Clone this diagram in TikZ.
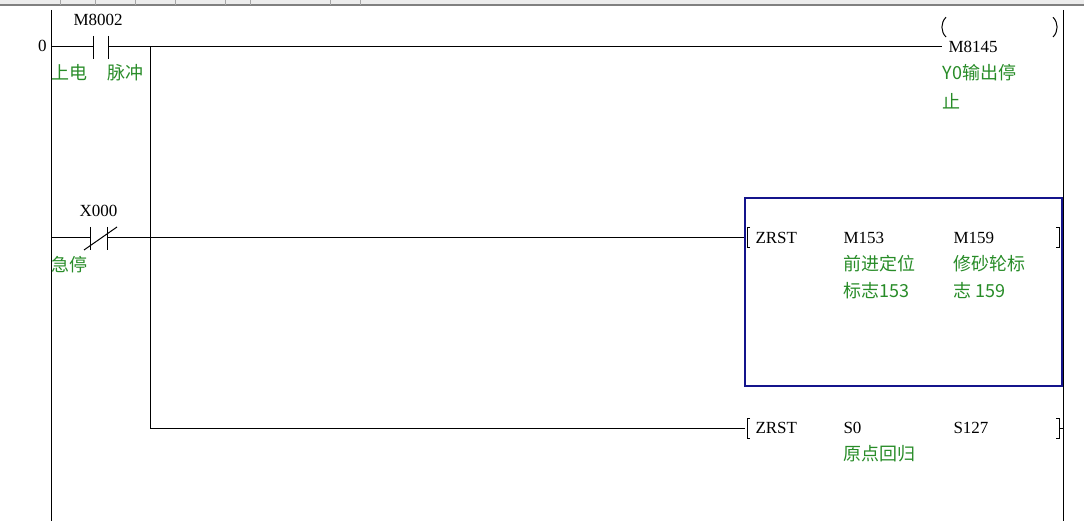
\documentclass[tikz,border=0pt]{standalone}
\usepackage{fontspec}
\setmainfont{Liberation Serif}
\newfontfamily\cjk{Noto Sans CJK SC}
\definecolor{lblgreen}{RGB}{40,140,40}
\definecolor{boxblue}{RGB}{20,20,140}
\begin{document}
\begin{tikzpicture}[x=1pt,y=-1pt,line width=1pt,
  dev/.style={font=\fontsize{17}{17}\selectfont,anchor=west,inner sep=0pt},
  lbl/.style={font=\cjk\fontsize{18}{18}\selectfont,text=lblgreen,anchor=west,inner sep=0pt}]
\useasboundingbox (0,0) rectangle (1084,521);
% top bar
\fill[gray!15] (0,0) rectangle (1084,5);
\draw[gray,line width=1.5pt] (0,5) -- (1084,5);
\foreach \x in {60,95,135,175,225,250,330,360} \draw[gray!70] (\x,0)--(\x,5);
% rails
\draw (51,10) -- (51,521);
\draw (1063,10) -- (1063,521);
\node[dev,anchor=east] (n0) at (47,46) {0};
% rung 1
\coordinate (r1a) at (51,47); \coordinate (c1a) at (93,47); \coordinate (c1b) at (108,47);
\coordinate (coilL) at (942,47);
\draw (r1a) -- (c1a); \draw (93,36) -- (93,59); \draw (108,36) -- (108,59);
\draw (c1b) -- (coilL);
\draw (946,37) arc[start angle=135,end angle=225,radius=14];
\draw (1053,37) arc[start angle=45,end angle=-45,radius=14];
\draw (1063,47) -- (1063,47);
\node[dev] (m8002) at (73,20) {M8002};
\node[lbl] (l1) at (51,73) {上电};
\node[lbl] (l2) at (107,73) {脉冲};
\node[dev] (m8145) at (948,47) {M8145};
\node[lbl] (l3) at (942,73) {Y0输出停};
\node[lbl] (l4) at (942,101) {止};
% branch
\coordinate (br1) at (150,47); \coordinate (br2) at (150,428);
\draw (br1) -- (br2);
% rung 2
\coordinate (r2a) at (51,238);
\draw (r2a) -- (90,238); \draw (90,227) -- (90,250); \draw (107,227) -- (107,250);
\draw (84,250) -- (117,227);
\draw (107,238) -- (745,238);
\node[dev] (x000) at (79,211) {X000};
\node[lbl] (l5) at (51,265) {急停};
\draw[boxblue,line width=2pt] (745,198) rectangle (1062,386);
\draw (750,228) -- (747,228) -- (747,248) -- (750,248);
\draw (1056,228) -- (1059,228) -- (1059,248) -- (1056,248);
\node[dev] (z1) at (755,238) {ZRST};
\node[dev] (m153) at (843,238) {M153};
\node[dev] (m159) at (953,238) {M159};
\node[lbl] (l6) at (843,264) {前进定位};
\node[lbl] (l7) at (843,291) {标志153};
\node[lbl] (l8) at (953,264) {修砂轮标};
\node[lbl] (l9) at (953,291) {志 159};
% rung 3
\draw (br2) -- (745,428);
\draw (750,418) -- (747,418) -- (747,438) -- (750,438);
\draw (1056,418) -- (1059,418) -- (1059,438) -- (1056,438);
\draw (1059,428) -- (1063,428);
\node[dev] (z2) at (755,428) {ZRST};
\node[dev] (s0) at (843,428) {S0};
\node[dev] (s127) at (953,428) {S127};
\node[lbl] (l10) at (843,454) {原点回归};
\end{tikzpicture}
\end{document}
